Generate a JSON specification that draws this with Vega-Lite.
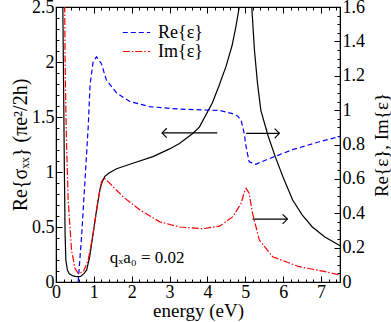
{
  "$schema": "https://vega.github.io/schema/vega-lite/v6.json",
  "width": 284,
  "height": 275,
  "autosize": {"type": "none"},
  "padding": {"left": 56, "top": 7, "right": 51, "bottom": 40},
  "config": {
    "view": {"stroke": "black", "strokeWidth": 1.2},
    "font": "Liberation Serif",
    "axis": {"labelFont": "Liberation Serif", "titleFont": "Liberation Serif", "labelFontSize": 18, "titleFontSize": 19, "titleFontWeight": "normal", "labelColor": "black", "titleColor": "black", "domainColor": "black", "tickColor": "black", "grid": false},
    "legend": {"labelFont": "Liberation Serif", "labelFontSize": 18}
  },
  "datasets": {
    "sigma": [
      {"energy": 0.16, "value": 2.9}, {"energy": 0.18, "value": 2.5}, {"energy": 0.2, "value": 1.8}, {"energy": 0.22, "value": 1.05},
      {"energy": 0.24, "value": 0.44}, {"energy": 0.26, "value": 0.2}, {"energy": 0.3, "value": 0.11}, {"energy": 0.35, "value": 0.075},
      {"energy": 0.45, "value": 0.055}, {"energy": 0.55, "value": 0.048}, {"energy": 0.65, "value": 0.05}, {"energy": 0.75, "value": 0.08},
      {"energy": 0.81, "value": 0.11}, {"energy": 0.89, "value": 0.23}, {"energy": 0.98, "value": 0.44}, {"energy": 1.07, "value": 0.65},
      {"energy": 1.16, "value": 0.84}, {"energy": 1.22, "value": 0.91}, {"energy": 1.29, "value": 0.96}, {"energy": 1.4, "value": 0.99},
      {"energy": 1.6, "value": 1.03}, {"energy": 2.03, "value": 1.08}, {"energy": 2.56, "value": 1.14}, {"energy": 3.0, "value": 1.21},
      {"energy": 3.26, "value": 1.26}, {"energy": 3.61, "value": 1.35}, {"energy": 3.79, "value": 1.41}, {"energy": 4.13, "value": 1.63},
      {"energy": 4.3, "value": 1.78}, {"energy": 4.49, "value": 1.96}, {"energy": 4.65, "value": 2.15}, {"energy": 4.75, "value": 2.32},
      {"energy": 4.84, "value": 2.5}, {"energy": 4.9, "value": 2.8}, {"energy": 5.1, "value": 2.8}, {"energy": 5.17, "value": 2.5},
      {"energy": 5.24, "value": 2.11}, {"energy": 5.32, "value": 1.81}, {"energy": 5.41, "value": 1.56}, {"energy": 5.6, "value": 1.33},
      {"energy": 5.79, "value": 1.14}, {"energy": 6.0, "value": 0.95}, {"energy": 6.25, "value": 0.745}, {"energy": 6.5, "value": 0.61},
      {"energy": 6.77, "value": 0.5}, {"energy": 7.1, "value": 0.41}, {"energy": 7.47, "value": 0.336}, {"energy": 7.5, "value": 0.33}
    ],
    "eps": [
      {"series": "Re{ε}", "energy": 0.58, "value": 0.0}, {"series": "Re{ε}", "energy": 0.59, "value": 0.012}, {"series": "Re{ε}", "energy": 0.68, "value": 0.28},
      {"series": "Re{ε}", "energy": 0.76, "value": 0.57}, {"series": "Re{ε}", "energy": 0.85, "value": 0.9}, {"series": "Re{ε}", "energy": 0.9, "value": 1.15},
      {"series": "Re{ε}", "energy": 0.98, "value": 1.28}, {"series": "Re{ε}", "energy": 1.07, "value": 1.31}, {"series": "Re{ε}", "energy": 1.2, "value": 1.27},
      {"series": "Re{ε}", "energy": 1.33, "value": 1.175}, {"series": "Re{ε}", "energy": 1.6, "value": 1.1}, {"series": "Re{ε}", "energy": 1.95, "value": 1.05},
      {"series": "Re{ε}", "energy": 2.47, "value": 1.02}, {"series": "Re{ε}", "energy": 3.26, "value": 1.006}, {"series": "Re{ε}", "energy": 4.0, "value": 1.0},
      {"series": "Re{ε}", "energy": 4.32, "value": 0.998}, {"series": "Re{ε}", "energy": 4.66, "value": 0.98}, {"series": "Re{ε}", "energy": 4.8, "value": 0.965},
      {"series": "Re{ε}", "energy": 4.89, "value": 0.94}, {"series": "Re{ε}", "energy": 4.97, "value": 0.865}, {"series": "Re{ε}", "energy": 5.02, "value": 0.787},
      {"series": "Re{ε}", "energy": 5.1, "value": 0.7}, {"series": "Re{ε}", "energy": 5.28, "value": 0.685}, {"series": "Re{ε}", "energy": 5.54, "value": 0.71},
      {"series": "Re{ε}", "energy": 6.25, "value": 0.77}, {"series": "Re{ε}", "energy": 6.95, "value": 0.816}, {"series": "Re{ε}", "energy": 7.5, "value": 0.847},
      {"series": "Im{ε}", "energy": 0.22, "value": 1.9}, {"series": "Im{ε}", "energy": 0.24, "value": 1.3}, {"series": "Im{ε}", "energy": 0.26, "value": 1.0},
      {"series": "Im{ε}", "energy": 0.28, "value": 0.8}, {"series": "Im{ε}", "energy": 0.32, "value": 0.48}, {"series": "Im{ε}", "energy": 0.41, "value": 0.186},
      {"series": "Im{ε}", "energy": 0.5, "value": 0.08}, {"series": "Im{ε}", "energy": 0.59, "value": 0.05}, {"series": "Im{ε}", "energy": 0.72, "value": 0.06},
      {"series": "Im{ε}", "energy": 0.85, "value": 0.128}, {"series": "Im{ε}", "energy": 0.98, "value": 0.28}, {"series": "Im{ε}", "energy": 1.11, "value": 0.477},
      {"series": "Im{ε}", "energy": 1.2, "value": 0.58}, {"series": "Im{ε}", "energy": 1.25, "value": 0.603}, {"series": "Im{ε}", "energy": 1.3, "value": 0.6},
      {"series": "Im{ε}", "energy": 1.42, "value": 0.574}, {"series": "Im{ε}", "energy": 1.77, "value": 0.496}, {"series": "Im{ε}", "energy": 2.21, "value": 0.42},
      {"series": "Im{ε}", "energy": 2.74, "value": 0.35}, {"series": "Im{ε}", "energy": 3.26, "value": 0.32}, {"series": "Im{ε}", "energy": 3.88, "value": 0.31},
      {"series": "Im{ε}", "energy": 4.32, "value": 0.325}, {"series": "Im{ε}", "energy": 4.67, "value": 0.38}, {"series": "Im{ε}", "energy": 4.89, "value": 0.458},
      {"series": "Im{ε}", "energy": 4.97, "value": 0.52}, {"series": "Im{ε}", "energy": 5.02, "value": 0.545}, {"series": "Im{ε}", "energy": 5.1, "value": 0.516},
      {"series": "Im{ε}", "energy": 5.19, "value": 0.4}, {"series": "Im{ε}", "energy": 5.37, "value": 0.244}, {"series": "Im{ε}", "energy": 5.72, "value": 0.147},
      {"series": "Im{ε}", "energy": 6.42, "value": 0.089}, {"series": "Im{ε}", "energy": 7.12, "value": 0.06}, {"series": "Im{ε}", "energy": 7.5, "value": 0.04}
    ],
    "arrowLeft": [{"from": 4.26, "to": 2.8, "value": 1.355}],
    "arrowRight": [{"from": 5.02, "to": 5.9, "value": 0.865}, {"from": 5.19, "to": 6.11, "value": 0.366}],
    "note": [{"energy": 1.42, "value": 0.17, "label": "qₓa₀ = 0.02"}]
  },
  "resolve": {"scale": {"y": "independent"}, "axis": {"x": "independent", "y": "independent"}},
  "layer": [
    {
      "data": {"name": "sigma"},
      "mark": {"type": "line", "color": "black", "strokeWidth": 1.2, "clip": true},
      "encoding": {
        "x": {"field": "energy", "type": "quantitative", "scale": {"domain": [0, 7.5], "nice": false},
          "axis": {"orient": "bottom", "title": "energy (eV)", "values": [0,0.2,0.4,0.6,0.8,1,1.2,1.4,1.6,1.8,2,2.2,2.4,2.6,2.8,3,3.2,3.4,3.6,3.8,4,4.2,4.4,4.6,4.8,5,5.2,5.4,5.6,5.8,6,6.2,6.4,6.6,6.8,7,7.2,7.4],
            "labelExpr": "datum.value % 1 === 0 ? datum.label : ''", "format": "~g",
            "labelFont": "Liberation Serif", "titleFont": "Liberation Serif", "labelFontSize": 18, "titleFontSize": 19,
            "tickSize": {"condition": {"test": "datum.value % 1 === 0", "value": -6}, "value": -3},
            "labelPadding": 7, "titlePadding": -3, "labelFlush": false, "labelOverlap": false}},
        "y": {"field": "value", "type": "quantitative", "scale": {"domain": [0, 2.5], "nice": false},
          "axis": {"orient": "left", "title": "Re{σₓₓ}   (πe²/2h)", "values": [0,0.1,0.2,0.3,0.4,0.5,0.6,0.7,0.8,0.9,1,1.1,1.2,1.3,1.4,1.5,1.6,1.7,1.8,1.9,2,2.1,2.2,2.3,2.4,2.5],
            "labelExpr": "abs(datum.value*2 - round(datum.value*2)) < 0.000001 ? datum.label : ''", "format": "~g",
            "labelFont": "Liberation Serif", "titleFont": "Liberation Serif", "labelFontSize": 18, "titleFontSize": 20,
            "tickSize": {"condition": {"test": "abs(datum.value*2 - round(datum.value*2)) < 0.000001", "value": -6}, "value": -3},
            "labelPadding": 8, "titlePadding": 1, "labelFlush": false, "labelOverlap": false}}
      }
    },
    {
      "data": {"name": "eps"},
      "mark": {"type": "line", "strokeWidth": 1.2, "clip": true},
      "encoding": {
        "x": {"field": "energy", "type": "quantitative", "scale": {"domain": [0, 7.5], "nice": false},
          "axis": {"orient": "top", "title": null, "labels": false, "values": [0,0.2,0.4,0.6,0.8,1,1.2,1.4,1.6,1.8,2,2.2,2.4,2.6,2.8,3,3.2,3.4,3.6,3.8,4,4.2,4.4,4.6,4.8,5,5.2,5.4,5.6,5.8,6,6.2,6.4,6.6,6.8,7,7.2,7.4],
            "tickSize": {"condition": {"test": "datum.value % 1 === 0", "value": -6}, "value": -3}}},
        "y": {"field": "value", "type": "quantitative", "scale": {"domain": [0, 1.6], "nice": false},
          "axis": {"orient": "right", "title": "Re{ε}, Im{ε}", "titleAngle": 270, "titleBaseline": "top", "values": [0,0.05,0.1,0.15,0.2,0.25,0.3,0.35,0.4,0.45,0.5,0.55,0.6,0.65,0.7,0.75,0.8,0.85,0.9,0.95,1,1.05,1.1,1.15,1.2,1.25,1.3,1.35,1.4,1.45,1.5,1.55,1.6],
            "labelExpr": "abs(datum.value*5 - round(datum.value*5)) < 0.000001 ? datum.label : ''", "format": "~g",
            "labelFont": "Liberation Serif", "titleFont": "Liberation Serif", "labelFontSize": 18, "titleFontSize": 19,
            "tickSize": {"condition": {"test": "abs(datum.value*5 - round(datum.value*5)) < 0.000001", "value": -6}, "value": -3},
            "labelPadding": 8, "titlePadding": 8, "labelFlush": false, "labelOverlap": false}},
        "color": {"field": "series", "type": "nominal", "scale": {"domain": ["Re{ε}", "Im{ε}"], "range": ["#0000ff", "#ff0000"]},
          "legend": {"orient": "none", "legendX": 66, "legendY": 17, "title": null, "symbolType": "stroke", "symbolSize": 750, "symbolStrokeWidth": 1.2, "rowPadding": 0, "clipHeight": 17, "labelOffset": 7, "padding": 0, "labelFont": "Liberation Serif", "labelFontSize": 18}},
        "strokeDash": {"field": "series", "type": "nominal", "scale": {"domain": ["Re{ε}", "Im{ε}"], "range": [[5, 3], [7, 2, 1.5, 2]]}}
      }
    },
    {
      "data": {"name": "arrowLeft"},
      "layer": [
        {"mark": {"type": "rule", "color": "black", "strokeWidth": 1.2},
         "encoding": {"x": {"field": "from", "type": "quantitative", "scale": {"domain": [0, 7.5], "nice": false}, "axis": null},
                      "x2": {"field": "to"},
                      "y": {"field": "value", "type": "quantitative", "scale": {"domain": [0, 2.5], "nice": false}, "axis": null}}},
        {"mark": {"type": "point", "shape": "M-1,-1L0,0L-1,1", "filled": false, "color": "black", "strokeWidth": 1.2, "size": 90, "angle": 180, "opacity": 1},
         "encoding": {"x": {"field": "to", "type": "quantitative", "scale": {"domain": [0, 7.5], "nice": false}, "axis": null},
                      "y": {"field": "value", "type": "quantitative", "scale": {"domain": [0, 2.5], "nice": false}, "axis": null}}}
      ]
    },
    {
      "data": {"name": "arrowRight"},
      "layer": [
        {"mark": {"type": "rule", "color": "black", "strokeWidth": 1.2},
         "encoding": {"x": {"field": "from", "type": "quantitative", "scale": {"domain": [0, 7.5], "nice": false}, "axis": null},
                      "x2": {"field": "to"},
                      "y": {"field": "value", "type": "quantitative", "scale": {"domain": [0, 1.6], "nice": false}, "axis": null}}},
        {"mark": {"type": "point", "shape": "M-1,-1L0,0L-1,1", "filled": false, "color": "black", "strokeWidth": 1.2, "size": 90, "angle": 0, "opacity": 1},
         "encoding": {"x": {"field": "to", "type": "quantitative", "scale": {"domain": [0, 7.5], "nice": false}, "axis": null},
                      "y": {"field": "value", "type": "quantitative", "scale": {"domain": [0, 1.6], "nice": false}, "axis": null}}}
      ]
    },
    {
      "data": {"name": "note"},
      "mark": {"type": "text", "font": "Liberation Serif", "fontSize": 17, "align": "left", "baseline": "alphabetic", "color": "black"},
      "encoding": {
        "x": {"field": "energy", "type": "quantitative", "scale": {"domain": [0, 7.5], "nice": false}, "axis": null},
        "y": {"field": "value", "type": "quantitative", "scale": {"domain": [0, 2.5], "nice": false}, "axis": null},
        "text": {"field": "label"}
      }
    }
  ]
}
